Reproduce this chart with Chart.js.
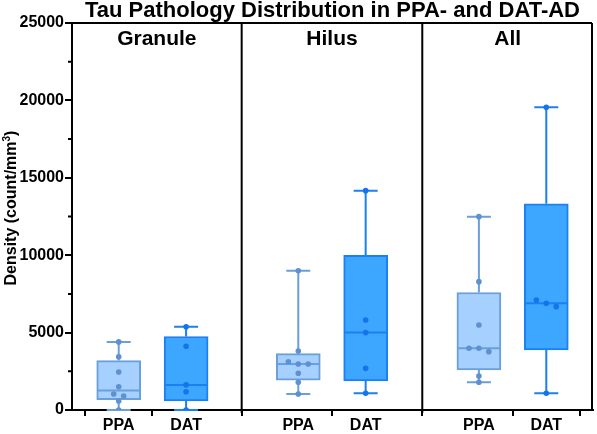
<!DOCTYPE html>
<html>
<head>
<meta charset="utf-8">
<script src="https://cdn.jsdelivr.net/npm/chart.js@4.4.1/dist/chart.umd.min.js"></script>
<style>
  html, body { margin: 0; padding: 0; background: #fff; }
  #wrap { width: 597px; height: 434px; position: relative; }
</style>
</head>
<body>
<div id="wrap"><canvas id="c" width="597" height="434"></canvas></div>
<script>
// ---------------- DATA ----------------
const panels = ['Granule', 'Hilus', 'All'];
const groups = ['PPA', 'DAT'];
const granulePPA = [4400, 3440, 2450, 1500, 1030, 900, 580, 0];
const granuleDAT = [5380, 4120, 1620, 1180, 0];
const hilusPPA = [9000, 3810, 3120, 2970, 2970, 2370, 1790, 1030];
const hilusDAT = [14170, 5810, 5000, 2690, 1080];
const allPPA = [12490, 8290, 5490, 3990, 3990, 3770, 2200, 1790];
const allDAT = [19550, 7100, 6890, 6675, 1080];
const yTickValues = [0, 5000, 10000, 15000, 20000, 25000];
const yMinorTicks = [2500, 7500, 12500, 17500, 22500];
const chartTitle = 'Tau Pathology Distribution in PPA- and DAT-AD';
const yTitleMain = 'Density (count/mm';
const yTitleSup = '3';
const yTitleEnd = ')';

// ---------------- LAYOUT / STYLE ----------------
const series = [granulePPA, granuleDAT, hilusPPA, hilusDAT, allPPA, allDAT];
const xPos = [0.269, 0.657, 1.303, 1.691, 2.343, 2.731];
const panelEdges = [0, 0.977, 2.017, 3];
const fill = { PPA: '#a6d0ff', DAT: '#3da6ff' };
const stroke = { PPA: '#6b9fda', DAT: '#1a80f4' };
const dotCol = { PPA: '#5f90cf', DAT: '#1574e9' };
const FONT = "'Liberation Sans', Arial, Helvetica, sans-serif";
const BOX_W = 44, CAP_W = 24, JITTER_PX = 10, PX_PER_UNIT = 175;

// Prism-style quartiles ((n+1)p interpolation)
function quant(sortedAsc, p) {
  const n = sortedAsc.length;
  let pos = (n + 1) * p;
  if (pos < 1) pos = 1;
  if (pos > n) pos = n;
  const lo = Math.floor(pos), hi = Math.ceil(pos);
  const f = pos - lo;
  return sortedAsc[lo - 1] + f * (sortedAsc[hi - 1] - sortedAsc[lo - 1]);
}
const stats = series.map(arr => {
  const s = [...arr].sort((a, b) => a - b);
  return { min: s[0], q1: quant(s, 0.25), med: quant(s, 0.5), q3: quant(s, 0.75), max: s[s.length - 1] };
});

// simple jitter for overlapping dots
const dots = [], dotColors = [];
series.forEach((arr, i) => {
  const g = groups[i % 2];
  const s = [...arr].sort((a, b) => b - a);
  let clusters = [], cur = [s[0]];
  for (let k = 1; k < s.length; k++) {
    if (cur[cur.length - 1] - s[k] < 300) cur.push(s[k]);
    else { clusters.push(cur); cur = [s[k]]; }
  }
  clusters.push(cur);
  clusters.forEach(cl => {
    cl.forEach((v, j) => {
      const off = (j - (cl.length - 1) / 2) * JITTER_PX / PX_PER_UNIT;
      dots.push({ x: xPos[i] + off, y: v });
      dotColors.push(dotCol[g]);
    });
  });
});

const boxPlugin = {
  id: 'boxPlugin',
  beforeDatasetsDraw(chart) {
    const { ctx, scales: { x, y } } = chart;
    ctx.save();
    ctx.lineWidth = 2;
    stats.forEach((st, i) => {
      const g = groups[i % 2];
      const px = x.getPixelForValue(xPos[i]);
      ctx.strokeStyle = stroke[g];
      ctx.beginPath();
      ctx.moveTo(px, y.getPixelForValue(st.q3)); ctx.lineTo(px, y.getPixelForValue(st.max));
      ctx.moveTo(px, y.getPixelForValue(st.q1)); ctx.lineTo(px, y.getPixelForValue(st.min));
      ctx.moveTo(px - CAP_W / 2, y.getPixelForValue(st.max)); ctx.lineTo(px + CAP_W / 2, y.getPixelForValue(st.max));
      ctx.moveTo(px - CAP_W / 2, y.getPixelForValue(st.min)); ctx.lineTo(px + CAP_W / 2, y.getPixelForValue(st.min));
      ctx.stroke();
    });
    ctx.restore();
  },
  afterDatasetDraw(chart, args) {
    if (args.index !== 0) return;
    const { ctx, scales: { x, y } } = chart;
    ctx.save();
    ctx.lineWidth = 2;
    stats.forEach((st, i) => {
      const g = groups[i % 2];
      const px = x.getPixelForValue(xPos[i]);
      const py = y.getPixelForValue(st.med);
      ctx.strokeStyle = stroke[g];
      ctx.beginPath();
      ctx.moveTo(px - BOX_W / 2 + 1, py); ctx.lineTo(px + BOX_W / 2 - 1, py);
      ctx.stroke();
    });
    ctx.restore();
  },
  afterDraw(chart) {
    const { ctx, chartArea: a, scales: { x, y } } = chart;
    ctx.save();
    ctx.strokeStyle = '#000';
    ctx.lineWidth = 2;
    ctx.beginPath();
    // top and right frame
    ctx.moveTo(a.left - 1, a.top); ctx.lineTo(a.right - 1, a.top);
    ctx.moveTo(a.right - 1, a.top); ctx.lineTo(a.right - 1, a.bottom);
    // panel dividers
    [panelEdges[1], panelEdges[2]].forEach(v => {
      const px = x.getPixelForValue(v);
      ctx.moveTo(px, a.top); ctx.lineTo(px, a.bottom + 3);
    });
    // minor ticks
    yMinorTicks.forEach(v => {
      const py = y.getPixelForValue(v);
      ctx.moveTo(a.left - 4, py); ctx.lineTo(a.left, py);
    });
    ctx.stroke();
    ctx.fillStyle = '#000';
    // main title, centred over the plot area
    ctx.font = 'bold 22px ' + FONT;
    ctx.textAlign = 'center';
    ctx.textBaseline = 'alphabetic';
    ctx.fillText(chartTitle, (a.left + a.right) / 2, 17);
    // panel titles
    ctx.font = 'bold 21px ' + FONT;
    panels.forEach((p, i) => {
      const cx = (x.getPixelForValue(panelEdges[i]) + x.getPixelForValue(panelEdges[i + 1])) / 2;
      ctx.fillText(p, cx, a.top + 22);
    });
    // y-axis title with superscript
    ctx.translate(16, 208);
    ctx.rotate(-Math.PI / 2);
    const fMain = 'bold 16px ' + FONT, fSup = 'bold 10px ' + FONT;
    ctx.font = fMain;
    const w1 = ctx.measureText(yTitleMain).width;
    const w3 = ctx.measureText(yTitleEnd).width;
    ctx.font = fSup;
    const w2 = ctx.measureText(yTitleSup).width;
    const total = w1 + w2 + w3;
    let sx = -total / 2;
    ctx.textAlign = 'left';
    ctx.font = fMain; ctx.fillText(yTitleMain, sx, 0); sx += w1;
    ctx.font = fSup; ctx.fillText(yTitleSup, sx, -6); sx += w2;
    ctx.font = fMain; ctx.fillText(yTitleEnd, sx, 0);
    ctx.restore();
  }
};

new Chart(document.getElementById('c'), {
  type: 'bar',
  data: {
    datasets: [
      {
        type: 'bar',
        data: stats.map((st, i) => ({ x: xPos[i], y: [st.q1, st.q3] })),
        backgroundColor: stats.map((_, i) => fill[groups[i % 2]]),
        borderColor: stats.map((_, i) => stroke[groups[i % 2]]),
        borderWidth: 2,
        borderSkipped: false,
        barThickness: BOX_W,
        order: 2
      },
      {
        type: 'scatter',
        data: dots,
        pointBackgroundColor: dotColors,
        pointBorderWidth: 0,
        pointRadius: 2.8,
        showLine: false,
        order: 0
      }
    ]
  },
  options: {
    responsive: false,
    animation: false,
    devicePixelRatio: 1,
    layout: { padding: { top: 23, left: 0, right: 0, bottom: 0 } },
    plugins: {
      legend: { display: false },
      tooltip: { enabled: false },
      title: { display: false }
    },
    scales: {
      x: {
        type: 'linear',
        min: 0, max: 3,
        offset: false,
        afterBuildTicks(s) { s.ticks = xPos.map(v => ({ value: v })); },
        afterFit(s) { s.height = 24; },
        ticks: {
          autoSkip: false, maxRotation: 0, color: '#000', padding: 0,
          font: { family: FONT, size: 16, weight: 'bold' },
          callback: (v, i) => groups[i % 2]
        },
        grid: { drawOnChartArea: false, drawTicks: true, tickLength: 6, color: '#000', lineWidth: 2 },
        border: { display: true, color: '#000', width: 2 }
      },
      y: {
        min: 0, max: 25000,
        afterBuildTicks(s) { s.ticks = yTickValues.map(v => ({ value: v })); },
        afterFit(s) { s.width = 72; },
        ticks: {
          color: '#000', padding: 1,
          font: { family: FONT, size: 16, weight: 'bold' },
          callback: v => String(v)
        },
        grid: { drawOnChartArea: false, drawTicks: true, tickLength: 7, color: '#000', lineWidth: 2 },
        border: { display: true, color: '#000', width: 2 },
        title: { display: false }
      }
    }
  },
  plugins: [boxPlugin]
});
</script>
</body>
</html>
